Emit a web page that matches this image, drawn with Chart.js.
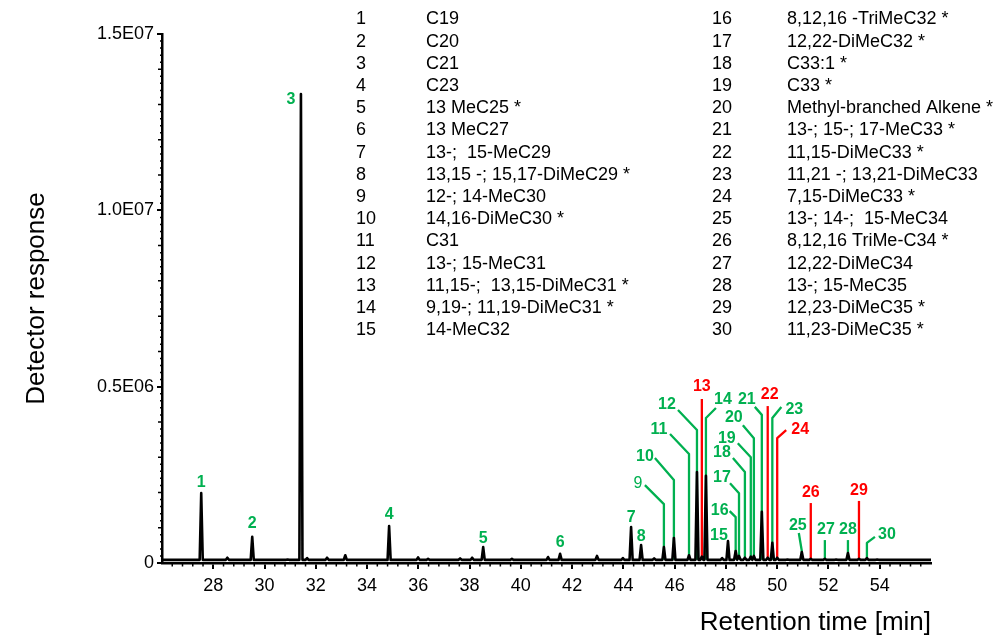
<!DOCTYPE html>
<html>
<head>
<meta charset="utf-8">
<script src="https://cdn.jsdelivr.net/npm/chart.js@4.4.1/dist/chart.umd.min.js"></script>
<style>
  html, body { margin: 0; padding: 0; background: #fff; }
</style>
</head>
<body>
<canvas id="chromChart" width="1000" height="636"></canvas>
<script>
// labelled peaks 1..30 (retention time in min, detector response)
const peakTimes = [27.53, 29.52, 31.42, 34.86, 38.53, 41.53, 44.30, 44.69, 45.58, 45.97,
                   46.56, 46.87, 47.06, 47.22, 48.08, 48.38, 48.51, 48.74, 48.97, 49.09,
                   49.40, 49.63, 49.81, 50.00, 50.96, 51.31, 51.86, 52.76, 53.19, 53.50];
const peakHeights = [1.98e6, 0.74e6, 13.3e6, 1.05e6, 0.45e6, 0.26e6, 1.02e6, 0.51e6, 0.45e6, 0.71e6,
                     0.22e6, 2.58e6, 0.18e6, 2.47e6, 0.62e6, 0.34e6, 0.20e6, 0.15e6, 0.18e6, 0.20e6,
                     1.45e6, 0.15e6, 0.57e6, 0.15e6, 0.31e6, 0.12e6, 0.12e6, 0.28e6, 0.12e6, 0.14e6];

// small unlabelled bumps on the baseline
const otherTimes = [28.55, 30.90, 31.66, 32.44, 33.15, 35.99, 36.38, 37.63, 38.10, 39.65,
                    41.06, 42.97, 43.98, 45.20, 47.85, 50.40, 52.30, 53.90];
const otherHeights = [0.15e6, 0.10e6, 0.14e6, 0.15e6, 0.22e6, 0.16e6, 0.12e6, 0.13e6, 0.15e6, 0.12e6,
                      0.17e6, 0.20e6, 0.14e6, 0.13e6, 0.14e6, 0.10e6, 0.10e6, 0.10e6];
const baselineLevel = 0.09e6;

const compoundNames = [
  'C19', 'C20', 'C21', 'C23', '13 MeC25 *', '13 MeC27', '13-;  15-MeC29',
  '13,15 -; 15,17-DiMeC29 *', '12-; 14-MeC30', '14,16-DiMeC30 *', 'C31', '13-; 15-MeC31',
  '11,15-;  13,15-DiMeC31 *', '9,19-; 11,19-DiMeC31 *', '14-MeC32',
  '8,12,16 -TriMeC32 *', '12,22-DiMeC32 *', 'C33:1 *', 'C33 *', 'Methyl-branched Alkene *',
  '13-; 15-; 17-MeC33 *', '11,15-DiMeC33 *', '11,21 -; 13,21-DiMeC33', '7,15-DiMeC33 *',
  '13-; 14-;  15-MeC34', '8,12,16 TriMe-C34 *', '12,22-DiMeC34', '13-; 15-MeC35',
  '12,23-DiMeC35 *', '11,23-DiMeC35 *'
];

const xTickValues = [28, 30, 32, 34, 36, 38, 40, 42, 44, 46, 48, 50, 52, 54];
const yTickValues = [0, 5e6, 1e7, 1.5e7];
const yTickLabels = ['0', '0.5E06', '1.0E07', '1.5E07'];

const redPeaks = [13, 22, 24, 26, 29];
const GREEN = '#00b050', RED = '#ff0000';
const FONT = "'Liberation Sans', Arial, sans-serif";

// leader lines: top of vertical part (response), bend offset and label offset in px
const leaderLayout = {
  1: {text: [0, -11]}, 2: {text: [0, -13]}, 3: {text: [-10, 6]}, 4: {text: [0, -11]},
  5: {text: [0, -9]}, 6: {text: [0, -11]}, 7: {text: [0, -9]}, 8: {text: [0, -8]},
  9:  {top: 1.67e6, bend: [-19, -19], text: [-26, -21]},
  10: {top: 2.35e6, bend: [-19, -22], text: [-29, -24]},
  11: {top: 3.09e6, bend: [-19, -20], text: [-30, -24]},
  12: {top: 3.77e6, bend: [-19, -20], text: [-30, -25]},
  13: {top: 4.65e6, text: [0, -12]},
  14: {top: 4.11e6, bend: [10, -10], text: [17, -18]},
  15: {text: [-9, -6]},
  16: {top: 1.30e6, bend: [-6, -6], text: [-16, -7]},
  17: {top: 1.98e6, bend: [-9, -10], text: [-17, -16]},
  18: {top: 2.58e6, bend: [-12, -14], text: [-23, -19]},
  19: {top: 3.00e6, bend: [-13, -14], text: [-24, -19]},
  20: {top: 3.54e6, bend: [-11, -13], text: [-20, -21]},
  21: {top: 4.20e6, bend: [-7, -8], text: [-15, -15]},
  22: {top: 4.45e6, text: [2, -11]},
  23: {top: 4.11e6, bend: [9, -11], text: [22, -8]},
  24: {top: 3.54e6, bend: [9, -8], text: [23, -9]},
  25: {top: 0.34e6, bend: [-3, -18], text: [-4, -25]},
  26: {top: 1.70e6, text: [0, -10]},
  27: {top: 0.65e6, text: [1, -10]},
  28: {top: 0.65e6, text: [0, -10]},
  29: {top: 1.76e6, text: [0, -10]},
  30: {top: 0.57e6, bend: [8, -6], text: [20, -8]}
};

// build the trace: baseline with a narrow spike per peak
const halfWidth = 0.06;
const allPeaks = peakTimes.map((t, i) => ({t: t, h: peakHeights[i]}))
  .concat(otherTimes.map((t, i) => ({t: t, h: otherHeights[i]})))
  .sort((a, b) => a.t - b.t);
const trace = [{x: 26, y: baselineLevel}];
allPeaks.forEach(p => {
  trace.push({x: p.t - halfWidth, y: baselineLevel});
  trace.push({x: p.t, y: p.h});
  trace.push({x: p.t + halfWidth, y: baselineLevel});
});
trace.push({x: 56, y: baselineLevel});

function colorFor(n) { return redPeaks.includes(n) ? RED : GREEN; }

const leaderPlugin = {
  id: 'leaders',
  beforeDatasetsDraw(chart) {
    const {ctx, scales: {x, y}} = chart;
    ctx.save();
    ctx.lineWidth = 2.3;
    ctx.lineJoin = 'round';
    peakTimes.forEach((t, i) => {
      const lay = leaderLayout[i + 1];
      if (!lay || lay.top === undefined) return;
      const px = x.getPixelForValue(t);
      const py = y.getPixelForValue(lay.top);
      ctx.strokeStyle = colorFor(i + 1);
      ctx.beginPath();
      ctx.moveTo(px, y.getPixelForValue(baselineLevel));
      ctx.lineTo(px, py);
      if (lay.bend) ctx.lineTo(px + lay.bend[0], py + lay.bend[1]);
      ctx.stroke();
    });
    ctx.restore();
  },
  afterDatasetsDraw(chart) {
    const {ctx, scales: {x, y}} = chart;
    ctx.save();
    ctx.textAlign = 'center';
    ctx.textBaseline = 'middle';
    peakTimes.forEach((t, i) => {
      const n = i + 1;
      const lay = leaderLayout[n];
      const px = x.getPixelForValue(t);
      const py = y.getPixelForValue(lay.top !== undefined ? lay.top : peakHeights[i]);
      ctx.fillStyle = colorFor(n);
      ctx.font = (n === 9 ? '' : 'bold ') + '16px ' + FONT;
      ctx.fillText(String(n), px + lay.text[0], py + lay.text[1]);
    });
    ctx.restore();
  }
};

// minor tick marks on both axes
const minorTicks = {
  id: 'minorTicks',
  afterDraw(chart) {
    const {ctx, chartArea, scales: {x, y}} = chart;
    ctx.save();
    ctx.strokeStyle = '#000';
    ctx.lineWidth = 1.5;
    ctx.beginPath();
    for (let k = 1; k < 75; k++) {
      if (k % 25 === 0) continue;
      const py = y.getPixelForValue(k * 0.2e6);
      const len = k % 5 === 0 ? 4 : 2;
      ctx.moveTo(chartArea.left - len, py);
      ctx.lineTo(chartArea.left, py);
    }
    for (let k = 1; k < 75; k++) {
      if (k % 5 === 0) continue;
      const px = x.getPixelForValue(26 + k * 0.4);
      ctx.moveTo(px, chartArea.bottom);
      ctx.lineTo(px, chartArea.bottom + 3.5);
    }
    ctx.stroke();
    ctx.restore();
  }
};

// compound table in the upper part
const compoundTable = {
  id: 'compoundTable',
  afterDraw(chart) {
    const ctx = chart.ctx;
    ctx.save();
    ctx.fillStyle = '#000';
    ctx.font = '18px ' + FONT;
    ctx.textAlign = 'left';
    ctx.textBaseline = 'middle';
    compoundNames.forEach((name, i) => {
      const col = i < 15 ? 0 : 1;
      const row = i % 15;
      const yy = 19.5 + row * 22.2;
      ctx.fillText(String(i + 1), col ? 712 : 356, yy);
      ctx.fillText(name, col ? 787 : 426, yy);
    });
    ctx.restore();
  }
};

new Chart(document.getElementById('chromChart'), {
  type: 'line',
  data: {
    datasets: [{
      data: trace,
      borderColor: '#000',
      borderWidth: 2.6,
      borderJoinStyle: 'round',
      pointRadius: 0,
      tension: 0,
      fill: false
    }]
  },
  options: {
    responsive: false,
    animation: false,
    devicePixelRatio: 1,
    layout: { padding: { top: 34, right: 69, left: 0, bottom: 0 } },
    plugins: { legend: { display: false }, tooltip: { enabled: false } },
    scales: {
      x: {
        type: 'linear', min: 26, max: 56,
        afterBuildTicks: s => { s.ticks = xTickValues.map(v => ({value: v})); },
        afterFit: s => { s.height = 73; },
        grid: { drawOnChartArea: false, drawTicks: true, tickLength: 6, color: '#000', lineWidth: 2 },
        border: { display: true, color: '#000', width: 2.5 },
        ticks: { color: '#000', font: { family: FONT, size: 18 }, padding: 6, maxRotation: 0, autoSkip: false },
        title: { display: true, text: 'Retention time [min]', align: 'end', color: '#000',
                 font: { family: FONT, size: 26, lineHeight: 1 }, padding: { top: 0, bottom: 0 } }
      },
      y: {
        min: 0, max: 1.5e7,
        afterBuildTicks: s => { s.ticks = yTickValues.map(v => ({value: v})); },
        afterFit: s => { s.width = 162; },
        grid: { drawOnChartArea: false, drawTicks: true, tickLength: 5, color: '#000', lineWidth: 2 },
        border: { display: true, color: '#000', width: 2.5 },
        ticks: { color: '#000', font: { family: FONT, size: 18 }, padding: 3,
                 callback: (v, i) => yTickLabels[i] },
        title: { display: true, text: 'Detector response', color: '#000',
                 font: { family: FONT, size: 26, lineHeight: 1 }, padding: { top: 24, bottom: 0 } }
      }
    }
  },
  plugins: [leaderPlugin, minorTicks, compoundTable]
});
</script>
</body>
</html>
